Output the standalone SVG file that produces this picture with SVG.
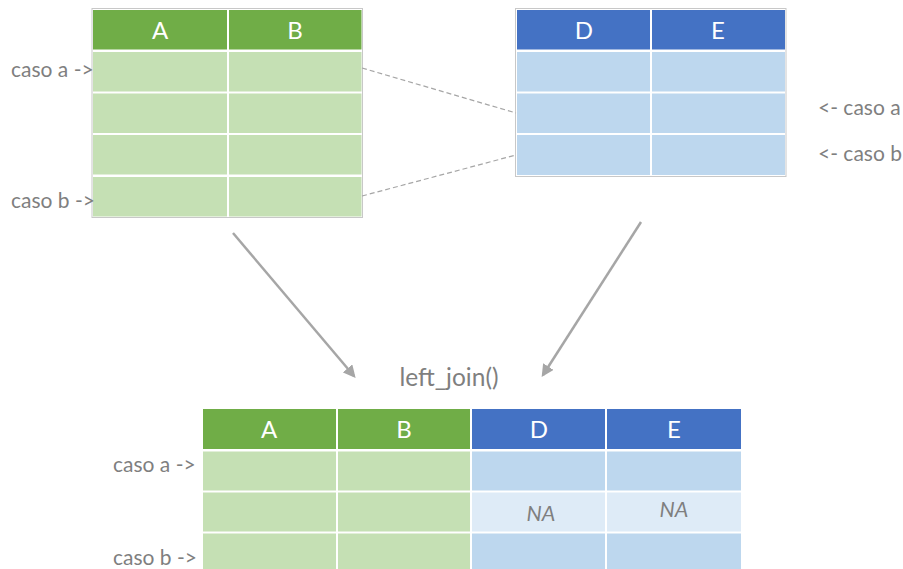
<svg xmlns="http://www.w3.org/2000/svg" width="903" height="569" viewBox="0 0 903 569">
<style>
.frame{fill:#fff;stroke:#C8C8C8;stroke-width:1}
.gh{fill:#70AD47}
.gc{fill:#C5E0B4}
.bh{fill:#4472C4}
.bc{fill:#BDD7EE}
.bn{fill:#DEEBF7}
.ht{font-family:Lato,"Open Sans",sans-serif;font-size:24px;fill:#fff;text-anchor:middle}
.lbl{font-family:Lato,"Open Sans",sans-serif;font-size:21px;fill:#7F7F7F}
.big{font-size:24.5px;text-anchor:middle}
.na{font-family:Lato,"Open Sans",sans-serif;font-size:21.5px;font-style:italic;fill:#7F7F7F;text-anchor:middle}
.dash{stroke:#A6A6A6;stroke-width:1.2;stroke-dasharray:5 3;fill:none}
.arr{stroke:#A6A6A6;stroke-width:2.5;fill:none;marker-end:url(#ah)}
</style>
<defs>
<marker id="ah" viewBox="0 0 10 10" refX="8" refY="5" markerWidth="5" markerHeight="5" orient="auto" markerUnits="strokeWidth">
<path d="M0,0 L10,5 L0,10 z" fill="#A6A6A6"/>
</marker>
</defs>
<rect width="903" height="569" fill="#fff"/>

<g id="tableX">
<rect class="frame" x="92" y="8.5" width="270.5" height="209"/>
<rect class="gh" x="93" y="10" width="134" height="39.5"/>
<rect class="gh" x="229" y="10" width="132.5" height="39.5"/>
<text class="ht" x="160" y="38.5">A</text>
<text class="ht" x="295" y="38.5">B</text>
<rect class="gc" x="93" y="52" width="134" height="39.5"/>
<rect class="gc" x="229" y="52" width="132.5" height="39.5"/>
<rect class="gc" x="93" y="93.5" width="134" height="39.5"/>
<rect class="gc" x="229" y="93.5" width="132.5" height="39.5"/>
<rect class="gc" x="93" y="135" width="134" height="39.5"/>
<rect class="gc" x="229" y="135" width="132.5" height="39.5"/>
<rect class="gc" x="93" y="177" width="134" height="39.5"/>
<rect class="gc" x="229" y="177" width="132.5" height="39.5"/>
<text class="lbl" x="11" y="77">caso a -&gt;</text>
<text class="lbl" x="11" y="208">caso b -&gt;</text>
</g>

<g id="tableY">
<rect class="frame" x="515.5" y="8.5" width="270.5" height="168"/>
<rect class="bh" x="517" y="10" width="133" height="39.5"/>
<rect class="bh" x="652" y="10" width="133" height="39.5"/>
<text class="ht" x="584" y="38.5">D</text>
<text class="ht" x="718" y="38.5">E</text>
<rect class="bc" x="517" y="52" width="133" height="39.5"/>
<rect class="bc" x="652" y="52" width="133" height="39.5"/>
<rect class="bc" x="517" y="93.5" width="133" height="39.5"/>
<rect class="bc" x="652" y="93.5" width="133" height="39.5"/>
<rect class="bc" x="517" y="135" width="133" height="40"/>
<rect class="bc" x="652" y="135" width="133" height="40"/>
<text class="lbl" x="818" y="115">&lt;- caso a</text>
<text class="lbl" x="818" y="161">&lt;- caso b</text>
</g>

<g id="result">
<rect class="gh" x="203" y="409" width="133" height="40"/>
<rect class="gh" x="338" y="409" width="132" height="40"/>
<rect class="bh" x="472" y="409" width="133" height="40"/>
<rect class="bh" x="607" y="409" width="134" height="40"/>
<text class="ht" x="269" y="437.5">A</text>
<text class="ht" x="404" y="437.5">B</text>
<text class="ht" x="539" y="437.5">D</text>
<text class="ht" x="674" y="437.5">E</text>
<rect class="gc" x="203" y="451.5" width="133" height="39"/>
<rect class="gc" x="338" y="451.5" width="132" height="39"/>
<rect class="bc" x="472" y="451.5" width="133" height="39"/>
<rect class="bc" x="607" y="451.5" width="134" height="39"/>
<rect class="gc" x="203" y="492.5" width="133" height="39"/>
<rect class="gc" x="338" y="492.5" width="132" height="39"/>
<rect class="bn" x="472" y="492.5" width="133" height="39"/>
<rect class="bn" x="607" y="492.5" width="134" height="39"/>
<text class="na" x="541" y="521">NA</text>
<text class="na" x="674" y="517">NA</text>
<rect class="gc" x="203" y="533.5" width="133" height="36"/>
<rect class="gc" x="338" y="533.5" width="132" height="36"/>
<rect class="bc" x="472" y="533.5" width="133" height="36"/>
<rect class="bc" x="607" y="533.5" width="134" height="36"/>
<text class="lbl" x="113" y="472">caso a -&gt;</text>
<text class="lbl" x="113" y="565">caso b -&gt;</text>
</g>

<g id="op">
<text class="lbl big" x="449" y="386">left_join()</text>
</g>

<g id="connectors">
<line class="dash" x1="362" y1="68" x2="516" y2="113"/>
<line class="dash" x1="362" y1="196" x2="516" y2="155"/>
<line class="arr" x1="233" y1="233" x2="354" y2="376"/>
<line class="arr" x1="641" y1="222" x2="543" y2="375"/>
</g>
</svg>
